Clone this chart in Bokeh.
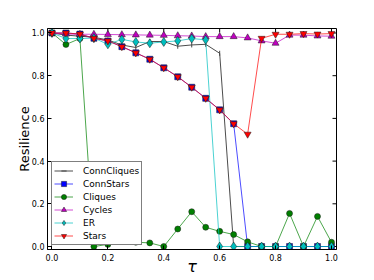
import math
from bokeh.plotting import figure
from bokeh.models import Range1d, FixedTicker, PrintfTickFormatter
from bokeh.embed import file_html
from bokeh.resources import INLINE

tau = [0.0, 0.05, 0.1, 0.15, 0.2, 0.25, 0.3, 0.35, 0.4, 0.45, 0.5,
       0.55, 0.6, 0.65, 0.7, 0.75, 0.8, 0.85, 0.9, 0.95, 1.0]
conn_cliques = [1.0, 0.99, 0.985, 0.98, 0.967, 0.944, 0.932, 0.96, 0.96, 0.938, 0.944,
                0.947, 0.905, 0.0, 0.0, 0.0, 0.0, 0.0, 0.0, 0.0, 0.0]
conn_stars = [1.0, 1.0, 0.995, 0.975, 0.963, 0.936, 0.907, 0.877, 0.837, 0.795, 0.746,
              0.694, 0.64, 0.575, 0.0, 0.0, 0.0, 0.0, 0.0, 0.0, 0.0]
cliques = [1.0, 0.946, 0.974, 0.0, 0.01, 0.03, 0.02, 0.017, 0.0, 0.082, 0.163,
           0.09, 0.071, 0.056, 0.022, 0.0, 0.0, 0.155, 0.0, 0.141, 0.02]
cycles = [1.0, 0.995, 0.994, 0.994, 0.993, 0.992, 0.991, 0.99, 0.989, 0.987, 0.986,
          0.983, 0.983, 0.983, 0.977, 0.963, 0.952, 0.99, 0.99, 0.986, 0.985]
er = [1.0, 0.974, 0.974, 0.976, 0.947, 0.97, 0.958, 0.952, 0.958, 0.963, 0.974,
      0.968, 0.0, 0.0, 0.0, 0.0, 0.0, 0.0, 0.0, 0.0, 0.0]
stars = [1.0, 1.0, 0.995, 0.975, 0.963, 0.936, 0.907, 0.877, 0.837, 0.795, 0.746,
         0.694, 0.64, 0.575, 0.526, 0.975, 0.994, 0.994, 0.997, 0.995, 0.997]
ticks = [0.0, 0.2, 0.4, 0.6, 0.8, 1.0]

X_MIN, X_MAX = -0.016, 1.018
Y_MIN, Y_MAX = -0.014, 1.021
FONT = "DejaVu Sans"

p = figure(width=370, height=278, output_backend="svg", toolbar_location=None,
           x_range=Range1d(X_MIN, X_MAX), y_range=Range1d(Y_MIN, Y_MAX),
           min_border_left=47, min_border_right=34, min_border_top=28, min_border_bottom=28)
p.grid.visible = False
p.outline_line_color = "black"
p.outline_line_width = 1
p.background_fill_color = "white"
p.border_fill_color = "white"

for ax in (p.xaxis[0], p.yaxis[0]):
    ax.ticker = FixedTicker(ticks=ticks)
    ax.formatter = PrintfTickFormatter(format="%.1f")
    ax.major_tick_in = 4
    ax.major_tick_out = 0
    ax.minor_tick_in = 0
    ax.minor_tick_out = 0
    ax.major_label_text_font = FONT
    ax.major_label_text_font_size = "8px"
    ax.major_label_text_color = "black"
    ax.axis_line_color = "black"
    ax.major_tick_line_color = "black"
    ax.axis_label_text_font = FONT
    ax.axis_label_text_color = "black"

p.xaxis.major_label_standoff = 4
p.yaxis.major_label_standoff = 3
p.yaxis.axis_label = "Resilience"
p.yaxis.axis_label_text_font_size = "13px"
p.yaxis.axis_label_text_font_style = "normal"
p.yaxis.axis_label_standoff = -3
p.xaxis.axis_label = "τ"
p.xaxis.axis_label_text_font_size = "16px"
p.xaxis.axis_label_text_font_style = "italic"
p.xaxis.axis_label_standoff = -7

# inward ticks on the top and right edges (half of each dash is clipped by the frame)
p.scatter(ticks, [Y_MAX] * len(ticks), marker="dash", angle=math.pi / 2, size=8,
          line_color="black", line_width=1)
p.scatter([X_MAX] * len(ticks), ticks, marker="dash", size=8,
          line_color="black", line_width=1)

series = [
    ("ConnCliques", conn_cliques, "black", None),
    ("ConnStars", conn_stars, "#0000ff", "square"),
    ("Cliques", cliques, "#008000", "circle"),
    ("Cycles", cycles, "#bf00bf", "triangle"),
    ("ER", er, "#00bfbf", "diamond"),
    ("Stars", stars, "#ff0000", "inverted_triangle"),
]
sizes = {"square": 6, "circle": 6, "triangle": 7, "diamond": 9, "inverted_triangle": 7}

for name, vals, col, marker in series:
    p.line(tau, vals, line_color=col, line_width=1, line_alpha=0.7, legend_label=name)
    if marker is None:
        p.scatter(tau, vals, marker="dash", angle=math.pi / 2, size=5,
                  line_color="#444444", line_width=1, legend_label=name)
    else:
        p.scatter(tau, vals, marker=marker, size=sizes[marker], fill_color=col,
                  line_color="#1a1a1a", line_width=0.5, legend_label=name)

lg = p.legend[0]
lg.location = "bottom_left"
lg.margin = 4
lg.padding = 2
lg.spacing = 0
lg.label_height = 13
lg.glyph_height = 13
lg.glyph_width = 19
lg.label_standoff = 10
lg.label_text_font = FONT
lg.label_text_font_size = "9px"
lg.label_text_color = "black"
lg.border_line_color = "black"
lg.border_line_width = 1
lg.background_fill_color = "white"
lg.background_fill_alpha = 1.0

open("out.html", "w").write(file_html(p, INLINE))
